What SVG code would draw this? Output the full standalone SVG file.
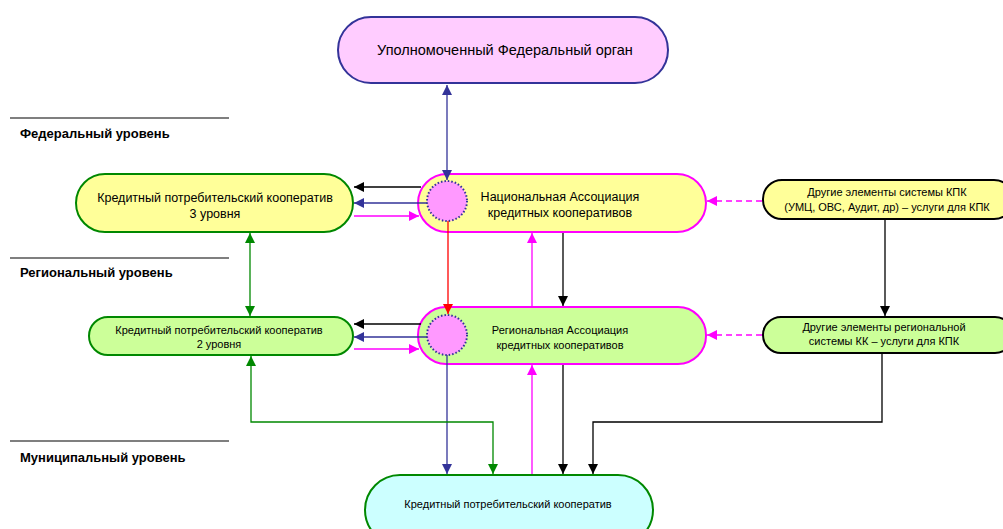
<svg xmlns="http://www.w3.org/2000/svg" width="1003" height="529" viewBox="0 0 1003 529">
<defs>
<style>
text{font-family:"Liberation Sans",Arial,sans-serif;fill:#000;text-anchor:middle}
.lvl{font-weight:bold;font-size:13px;text-anchor:start}
.t12{font-size:12.5px}
.t11{font-size:11px}
.c{fill:none;stroke-width:1.3}
.nav{stroke:#333399}
.blk{stroke:#000}
.mag{stroke:#FF00FF}
.grn{stroke:#008800}
.red{stroke:#FF0000}
.dash{stroke-dasharray:6,4}
</style>
<marker id="aN" viewBox="0 0 10 10" refX="10" refY="5" markerWidth="10" markerHeight="10" markerUnits="userSpaceOnUse" orient="auto-start-reverse"><path d="M0,0 L10,5 L0,10 Z" fill="#333399"/></marker>
<marker id="aB" viewBox="0 0 10 10" refX="10" refY="5" markerWidth="10" markerHeight="10" markerUnits="userSpaceOnUse" orient="auto-start-reverse"><path d="M0,0 L10,5 L0,10 Z" fill="#000"/></marker>
<marker id="aM" viewBox="0 0 10 10" refX="10" refY="5" markerWidth="10" markerHeight="10" markerUnits="userSpaceOnUse" orient="auto-start-reverse"><path d="M0,0 L10,5 L0,10 Z" fill="#FF00FF"/></marker>
<marker id="aG" viewBox="0 0 10 10" refX="10" refY="5" markerWidth="10" markerHeight="10" markerUnits="userSpaceOnUse" orient="auto-start-reverse"><path d="M0,0 L10,5 L0,10 Z" fill="#008800"/></marker>
<marker id="aR" viewBox="0 0 10 10" refX="10" refY="5" markerWidth="10" markerHeight="10" markerUnits="userSpaceOnUse" orient="auto-start-reverse"><path d="M0,0 L10,5 L0,10 Z" fill="#FF0000"/></marker>
</defs>
<rect width="1003" height="529" fill="#fff"/>

<g id="levels">
<line x1="10" y1="118" x2="229" y2="118" stroke="#000" stroke-width="1.2"/>
<text class="lvl" x="20" y="138">Федеральный уровень</text>
<line x1="10" y1="258" x2="229" y2="258" stroke="#000" stroke-width="1.2"/>
<text class="lvl" x="20" y="277">Региональный уровень</text>
<line x1="10" y1="441" x2="229" y2="441" stroke="#000" stroke-width="1.2"/>
<text class="lvl" x="20" y="462">Муниципальный уровень</text>
</g>

<g id="federal-organ">
<rect x="338" y="17" width="330" height="66" rx="33" fill="#FFCCFF" stroke="#333399" stroke-width="2"/>
<text x="505" y="55" style="font-size:14.5px">Уполномоченный Федеральный орган</text>
</g>

<g id="kpk3">
<rect x="76" y="174" width="277" height="58" rx="29" fill="#FFFF99" stroke="#008800" stroke-width="2"/>
<text class="t12" x="215" y="202">Кредитный потребительский кооператив</text>
<text class="t12" x="215" y="218">3 уровня</text>
</g>

<g id="national-assoc">
<rect x="418" y="174" width="288" height="58" rx="29" fill="#FFFF99" stroke="#FF00FF" stroke-width="2"/>
<circle cx="447" cy="201" r="20" fill="#FF99FF" stroke="#333399" stroke-width="2" stroke-dasharray="1.5,2"/>
<text class="t12" x="560" y="201">Национальная Ассоциация</text>
<text class="t12" x="560" y="217">кредитных кооперативов</text>
</g>

<g id="other-kpk">
<rect x="763" y="180" width="250" height="39" rx="19" fill="#FFFF99" stroke="#000" stroke-width="2"/>
<text class="t11" x="887" y="196">Другие элементы системы КПК</text>
<text class="t11" x="887" y="211">(УМЦ, ОВС, Аудит, др) – услуги для КПК</text>
</g>

<g id="kpk2">
<rect x="89" y="317" width="264" height="38" rx="19" fill="#CCFF99" stroke="#008800" stroke-width="2"/>
<text class="t11" x="219" y="334">Кредитный потребительский кооператив</text>
<text class="t11" x="219" y="348">2 уровня</text>
</g>

<g id="regional-assoc">
<rect x="418" y="307" width="288" height="57" rx="28" fill="#CCFF99" stroke="#FF00FF" stroke-width="2"/>
<circle cx="447" cy="335" r="20" fill="#FF99FF" stroke="#333399" stroke-width="2" stroke-dasharray="1.5,2"/>
<text class="t11" x="560" y="334">Региональная Ассоциация</text>
<text class="t11" x="560" y="349">кредитных кооперативов</text>
</g>

<g id="other-regional">
<rect x="763" y="317" width="250" height="36" rx="18" fill="#CCFF99" stroke="#000" stroke-width="2"/>
<text class="t11" x="884" y="331">Другие элементы региональной</text>
<text class="t11" x="884" y="345">системы КК – услуги для КПК</text>
</g>

<g id="kpk-municipal">
<rect x="365" y="475" width="288" height="70" rx="35" fill="#CCFFFF" stroke="#008800" stroke-width="2"/>
<text class="t11" x="508" y="508">Кредитный потребительский кооператив</text>
</g>

<g id="connectors">
<path class="c nav" d="M447,85 V180" marker-start="url(#aN)" marker-end="url(#aN)"/>
<path class="c blk" d="M421,187 H354" marker-end="url(#aB)"/>
<path class="c nav" d="M427,203 H354" marker-end="url(#aN)"/>
<path class="c mag" d="M354,216 H419" marker-end="url(#aM)"/>
<path class="c grn" d="M250,233 V316" marker-start="url(#aG)" marker-end="url(#aG)"/>
<path class="c red" d="M448,221 V314" marker-end="url(#aR)"/>
<path class="c mag" d="M532,306 V233" marker-end="url(#aM)"/>
<path class="c blk" d="M563,233 V306" marker-end="url(#aB)"/>
<path class="c mag dash" d="M762,201 H707" marker-end="url(#aM)"/>
<path class="c blk" d="M885,220 V316" marker-end="url(#aB)"/>
<path class="c blk" d="M421,324 H354" marker-end="url(#aB)"/>
<path class="c nav" d="M427,337 H354" marker-end="url(#aN)"/>
<path class="c mag" d="M354,349 H419" marker-end="url(#aM)"/>
<path class="c mag dash" d="M762,335 H707" marker-end="url(#aM)"/>
<path class="c nav" d="M447,355 V474" marker-end="url(#aN)"/>
<path class="c grn" d="M251,356 V422 H493 V474" marker-start="url(#aG)" marker-end="url(#aG)"/>
<path class="c mag" d="M532,474 V365" marker-end="url(#aM)"/>
<path class="c blk" d="M563,365 V474" marker-end="url(#aB)"/>
<path class="c blk" d="M882,354 V422 H593 V474" marker-end="url(#aB)"/>
</g>
</svg>
